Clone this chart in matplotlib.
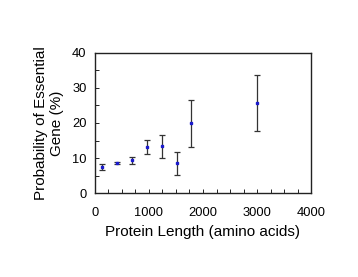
import numpy as np
import matplotlib
matplotlib.use("Agg")
import matplotlib.pyplot as plt
from matplotlib.ticker import MultipleLocator

plt.rcParams['font.family'] = ['Liberation Sans', 'DejaVu Sans']

# dati
lengths = [136, 414, 685, 963, 1235, 1512, 1784, 3006]
prob = [7.5, 8.5, 9.3, 13.1, 13.3, 8.5, 19.9, 25.7]
err = [0.9, 0.3, 1.1, 2.0, 3.2, 3.3, 6.8, 7.9]

fig = plt.figure(figsize=(3.58, 2.77), dpi=100)
ax = fig.add_axes([0.265, 0.303, 0.604, 0.506])

ax.errorbar(lengths, prob, yerr=err, fmt='s', color='#1a1acc', markersize=2,
            ecolor='#333333', elinewidth=0.9, capsize=2, capthick=0.9)

ax.set_xlim(0, 4000)
ax.set_ylim(0, 40)
ax.xaxis.set_major_locator(MultipleLocator(1000))
ax.xaxis.set_minor_locator(MultipleLocator(250))
ax.yaxis.set_major_locator(MultipleLocator(10))
ax.yaxis.set_minor_locator(MultipleLocator(5))
ax.tick_params(which='both', direction='in', labelsize=9.3, top=False, right=False)
ax.tick_params(which='major', length=3, width=0.6, pad=10)
ax.tick_params(which='minor', length=3, width=0.6)
ax.tick_params(axis='y', pad=6)
for s in ax.spines.values():
    s.set_linewidth(1.0)
    s.set_color('#222222')

ax.set_xlabel("Protein Length (amino acids)", fontsize=11, labelpad=4)
ax.set_ylabel("Probability of Essential\nGene (%)", fontsize=11, labelpad=6)

fig.savefig("out.png", dpi=100)
